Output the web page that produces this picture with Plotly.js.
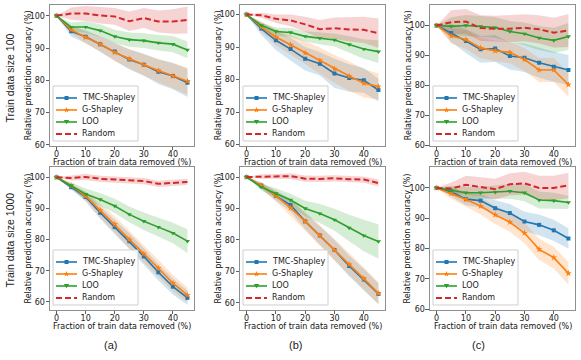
<!DOCTYPE html>
<html>
<head>
<meta charset="utf-8">
<script src="https://cdn.plot.ly/plotly-3.0.1.min.js"></script>
<style>
  html, body { margin: 0; padding: 0; background: #fff; }
  #graficos { width: 581px; height: 360px; }
</style>
</head>
<body>
<div id="graficos"></div>
<script>
// fraction of train data removed (%)
var removed = [0, 5, 10, 15, 20, 25, 30, 35, 40, 45];

var metodos = ['TMC-Shapley', 'G-Shapley', 'LOO', 'Random'];
var paneles = ['(a)', '(b)', '(c)'];
var filas = ['Train data size 100', 'Train data size 1000'];
var tituloX = 'Fraction of train data removed (%)';
var tituloY = 'Relative prediction accuracy (%)';

// top row - train data size 100
var a_tmc = [100, 95.2, 93.5, 91.2, 88.9, 86.4, 84.8, 82.6, 81.3, 79.2];
var a_g = [100, 95.7, 93.3, 91.2, 88.6, 86.6, 84.8, 83.0, 81.3, 79.7];
var a_loo = [100, 96.5, 96.5, 95.4, 93.6, 92.6, 92.3, 91.6, 91.2, 89.4];
var a_rand = [100, 100.7, 100.7, 100.1, 99.8, 98.3, 99.3, 98.2, 98.2, 98.7];
var a_tmc_sd = [0, 1.6, 2.0, 2.4, 2.8, 3.1, 3.4, 3.8, 4.1, 4.4];
var a_g_sd = [0, 1.2, 1.8, 2.3, 2.7, 3.0, 3.3, 3.6, 3.9, 4.2];
var a_loo_sd = [0, 1.3, 1.8, 2.0, 2.1, 2.2, 2.3, 2.4, 2.5, 2.6];
var a_rand_sd = [0, 1.9, 2.3, 2.5, 2.6, 3.0, 3.1, 3.4, 3.8, 4.2];

var b_tmc = [100, 95.7, 92.1, 89.4, 86.4, 84.9, 81.9, 80.5, 79.8, 76.8];
var b_g = [100, 96.2, 93.1, 90.7, 88.2, 85.9, 83.3, 81.1, 78.9, 77.9];
var b_loo = [100, 96.7, 94.8, 94.5, 93.3, 92.7, 92.2, 90.8, 89.4, 88.6];
var b_rand = [100, 99.8, 98.7, 98.2, 97.0, 95.5, 95.8, 95.4, 95.3, 94.3];
var b_tmc_sd = [0, 2.0, 3.0, 3.5, 3.6, 3.6, 4.5, 4.2, 3.8, 3.5];
var b_g_sd = [0, 1.5, 2.5, 3.0, 3.5, 4.0, 4.3, 4.5, 4.4, 4.0];
var b_loo_sd = [0, 0.8, 1.2, 1.4, 1.6, 1.8, 2.0, 2.5, 3.0, 3.5];
var b_rand_sd = [0, 0.8, 1.3, 1.8, 2.3, 2.8, 3.3, 3.7, 4.0, 4.5];

var c_tmc = [100, 97.5, 94.8, 92.0, 92.3, 89.8, 89.2, 87.5, 86.2, 85.1];
var c_g = [100, 96.5, 95.3, 92.5, 91.5, 91.0, 88.6, 85.1, 85.1, 80.2];
var c_loo = [100, 99.7, 100.0, 99.7, 99.3, 98.0, 97.2, 95.8, 95.0, 96.3];
var c_rand = [100, 101.1, 101.3, 99.1, 98.9, 98.9, 99.2, 98.7, 97.6, 98.3];
var c_tmc_sd = [0, 3.0, 4.0, 4.5, 4.5, 4.5, 4.8, 5.0, 5.0, 5.0];
var c_g_sd = [0, 2.5, 3.2, 3.5, 3.5, 3.6, 3.8, 4.0, 4.0, 4.0];
var c_loo_sd = [0, 3.0, 3.5, 3.5, 3.5, 3.5, 3.8, 4.0, 4.2, 4.5];
var c_rand_sd = [0, 4.0, 4.2, 4.3, 4.3, 4.5, 4.5, 4.7, 5.0, 5.5];

// bottom row - train data size 1000
var d_tmc = [100, 96.8, 93.7, 88.6, 84.0, 79.5, 74.6, 69.5, 64.9, 61.3];
var d_g = [100, 97.3, 94.0, 89.4, 84.9, 80.0, 75.4, 70.8, 66.0, 62.2];
var d_loo = [100, 97.4, 94.6, 92.9, 90.8, 88.1, 85.9, 84.0, 82.1, 79.5];
var d_rand = [100, 99.8, 100.1, 99.5, 99.3, 99.1, 98.8, 97.9, 98.3, 98.5];
var d_tmc_sd = [0, 0.8, 1.5, 2.0, 2.3, 2.5, 2.6, 2.6, 2.5, 2.3];
var d_g_sd = [0, 0.8, 1.5, 2.2, 2.6, 2.8, 2.8, 2.7, 2.6, 2.4];
var d_loo_sd = [0, 1.0, 1.8, 2.0, 2.3, 2.5, 2.8, 3.0, 3.3, 3.8];
var d_rand_sd = [0, 0.8, 1.0, 1.0, 1.0, 1.0, 1.0, 1.0, 1.0, 1.0];

var e_tmc = [100, 97.3, 94.0, 91.1, 85.9, 81.4, 76.8, 71.7, 67.4, 62.8];
var e_g = [100, 97.3, 94.0, 90.2, 85.9, 81.4, 76.8, 72.2, 67.7, 63.0];
var e_loo = [100, 96.8, 94.8, 92.7, 90.0, 88.4, 86.4, 83.8, 81.4, 79.5];
var e_rand = [100, 100.2, 100.2, 100.3, 99.5, 99.4, 99.6, 99.3, 99.2, 98.1];
var e_tmc_sd = [0, 1.0, 1.5, 2.0, 2.5, 3.0, 3.2, 3.3, 3.4, 3.3];
var e_g_sd = [0, 1.0, 1.8, 2.5, 3.0, 3.3, 3.5, 3.6, 3.6, 3.5];
var e_loo_sd = [0, 1.0, 1.6, 2.0, 2.5, 3.0, 3.5, 4.2, 5.0, 5.5];
var e_rand_sd = [0, 0.7, 0.8, 0.9, 1.0, 1.0, 1.0, 1.0, 1.0, 1.1];

var f_tmc = [100, 98.7, 96.3, 95.8, 93.3, 91.7, 88.9, 87.8, 86.0, 83.3];
var f_g = [100, 98.2, 96.2, 94.0, 91.1, 88.7, 85.1, 79.7, 77.0, 71.8];
var f_loo = [100, 99.2, 98.4, 98.4, 98.6, 98.9, 98.4, 96.0, 95.8, 95.2];
var f_rand = [100, 99.8, 101.0, 100.3, 99.6, 101.2, 101.5, 100.0, 100.0, 100.8];
var f_tmc_sd = [0, 1.5, 2.0, 2.3, 2.6, 3.0, 3.2, 3.4, 3.5, 3.4];
var f_g_sd = [0, 1.8, 2.5, 2.8, 3.0, 3.2, 3.4, 3.5, 3.6, 3.8];
var f_loo_sd = [0, 1.5, 2.0, 2.0, 2.2, 2.5, 2.8, 2.8, 2.6, 2.2];
var f_rand_sd = [0, 2.0, 3.0, 3.2, 3.4, 3.6, 3.8, 4.0, 4.0, 4.2];

document.addEventListener("DOMContentLoaded", function () {

    var colores = ['#1f77b4', '#ff7f0e', '#2ca02c', '#d62728'];
    var rellenos = ['rgba(31,119,180,0.2)', 'rgba(255,127,14,0.2)', 'rgba(44,160,44,0.2)', 'rgba(214,39,40,0.2)'];
    var simbolos = ['square', 'star', 'triangle-down', null];

    var series = [
        [a_tmc, a_g, a_loo, a_rand], [b_tmc, b_g, b_loo, b_rand], [c_tmc, c_g, c_loo, c_rand],
        [d_tmc, d_g, d_loo, d_rand], [e_tmc, e_g, e_loo, e_rand], [f_tmc, f_g, f_loo, f_rand]
    ];
    var desv = [
        [a_tmc_sd, a_g_sd, a_loo_sd, a_rand_sd], [b_tmc_sd, b_g_sd, b_loo_sd, b_rand_sd],
        [c_tmc_sd, c_g_sd, c_loo_sd, c_rand_sd], [d_tmc_sd, d_g_sd, d_loo_sd, d_rand_sd],
        [e_tmc_sd, e_g_sd, e_loo_sd, e_rand_sd], [f_tmc_sd, f_g_sd, f_loo_sd, f_rand_sd]
    ];

    var colDom = [[0.0861, 0.3339], [0.4131, 0.6627], [0.7401, 0.9897]];
    var rowDom = [[0.5945, 0.9875], [0.1389, 0.5361]];
    var yRangos = [[59.6, 103.5], [59.6, 103.1], [59.7, 107], [57.4, 103.3], [57.7, 103.2], [59.7, 106.9]];

    var fuente = 'DejaVu Sans, sans-serif';
    var data = [];
    var layout = {
        width: 581, height: 360,
        margin: {l: 0, r: 0, t: 0, b: 0},
        paper_bgcolor: '#fff', plot_bgcolor: '#fff',
        font: {family: fuente, size: 8, color: '#222'},
        showlegend: false,
        shapes: [], annotations: []
    };

    function starPath(cx, cy, ro, ri) {
        var p = '';
        for (var k = 0; k < 10; k++) {
            var r = k % 2 === 0 ? ro : ri;
            var ang = Math.PI / 2 + k * Math.PI / 5;
            p += (k === 0 ? 'M ' : ' L ') + (cx + r * Math.cos(ang)).toFixed(2) + ',' + (cy + r * Math.sin(ang)).toFixed(2);
        }
        return p + ' Z';
    }

    for (var i = 0; i < 6; i++) {
        var fila = Math.floor(i / 3), col = i % 3;
        var suf = i === 0 ? '' : String(i + 1);
        var xa = 'x' + suf, ya = 'y' + suf;
        var xr = xa + ' domain', yr = ya + ' domain';

        var ejeComun = {
            showline: true, mirror: true, linecolor: '#8f8f8f', linewidth: 1,
            showgrid: false, zeroline: false,
            ticks: 'outside', ticklen: 3.5, tickwidth: 0.8, tickcolor: '#333',
            tickfont: {size: 8, color: '#222'}, dtick: 10, tick0: 0
        };
        layout['xaxis' + suf] = Object.assign({}, ejeComun, {
            domain: colDom[col], anchor: ya, range: [-2.25, 47.25], ticklabelstandoff: -3
        });
        layout['yaxis' + suf] = Object.assign({}, ejeComun, {
            domain: rowDom[fila], anchor: xa, range: yRangos[i], ticklabelstandoff: -1
        });

        // axis titles
        layout.annotations.push({
            xref: xr, yref: yr, x: 0.5, y: 0, xanchor: 'center', yanchor: 'middle',
            yshift: -16.5, text: tituloX, showarrow: false, font: {size: 8, color: '#111'}
        });
        layout.annotations.push({
            xref: xr, yref: yr, x: 0, y: 0.5, xanchor: 'center', yanchor: 'middle',
            xshift: -22, textangle: -90, text: tituloY, showarrow: false, font: {size: 8, color: '#111'}
        });

        // bands first, lines on top
        for (var m = 0; m < 4; m++) {
            var media = series[i][m], sd = desv[i][m];
            var sup = media.map(function (v, k) { return v + sd[k]; });
            var inf = media.map(function (v, k) { return v - sd[k]; });
            data.push({
                x: removed.concat(removed.slice().reverse()),
                y: sup.concat(inf.slice().reverse()),
                xaxis: xa, yaxis: ya, type: 'scatter', mode: 'lines',
                fill: 'toself', fillcolor: rellenos[m], line: {width: 0},
                hoverinfo: 'skip', showlegend: false
            });
        }
        for (m = 0; m < 4; m++) {
            var tr = {
                x: removed, y: series[i][m], name: metodos[m],
                xaxis: xa, yaxis: ya, type: 'scatter', showlegend: false
            };
            if (simbolos[m]) {
                tr.mode = 'lines+markers';
                tr.line = {color: colores[m], width: 1.6};
                tr.marker = {symbol: simbolos[m], color: colores[m], size: m === 1 ? 5 : (m === 0 ? 4 : 4.5)};
            } else {
                tr.mode = 'lines';
                tr.line = {color: colores[m], width: 2, dash: '6px,3px'};
            }
            data.push(tr);
        }

        // legend box in the lower left of every panel
        var px = {xref: xr, yref: yr, xsizemode: 'pixel', ysizemode: 'pixel', xanchor: 0, yanchor: 0, layer: 'above'};
        layout.shapes.push(Object.assign({}, px, {
            type: 'rect', x0: 3, x1: 88, y0: 5, y1: 60,
            fillcolor: 'rgba(255,255,255,0.85)', line: {color: '#cfcfcf', width: 1}
        }));
        for (m = 0; m < 4; m++) {
            var fy = 48 - 12 * m;
            var ln = {color: colores[m], width: m === 3 ? 2 : 1.6};
            if (m === 3) ln.dash = '6px,3px';
            layout.shapes.push(Object.assign({}, px, {type: 'line', x0: 6, x1: 27, y0: fy, y1: fy, line: ln}));
            if (m === 0) {
                layout.shapes.push(Object.assign({}, px, {type: 'rect', x0: 14.5, x1: 18.5, y0: fy - 2, y1: fy + 2,
                    fillcolor: colores[m], line: {width: 0}}));
            } else if (m === 1) {
                layout.shapes.push(Object.assign({}, px, {type: 'path', path: starPath(16.5, fy, 3, 1.3),
                    fillcolor: colores[m], line: {width: 0}}));
            } else if (m === 2) {
                layout.shapes.push(Object.assign({}, px, {type: 'path',
                    path: 'M 13.8,' + (fy + 2) + ' L 19.2,' + (fy + 2) + ' L 16.5,' + (fy - 2.2) + ' Z',
                    fillcolor: colores[m], line: {width: 0}}));
            }
            layout.annotations.push({
                xref: xr, yref: yr, x: 0, y: 0, xanchor: 'left', yanchor: 'middle',
                xshift: 30, yshift: fy, text: metodos[m], showarrow: false,
                font: {size: 8, color: '#222'}
            });
        }
    }

    // row and column labels
    for (var f = 0; f < 2; f++) {
        layout.annotations.push({
            xref: 'paper', yref: 'paper', x: 0.018, y: f === 0 ? 0.783 : 0.333,
            text: filas[f], textangle: -90, showarrow: false,
            xanchor: 'center', yanchor: 'middle',
            font: {family: 'Liberation Sans, Arial, sans-serif', size: 10.5, color: '#222'}
        });
    }
    var centrosX = [0.191, 0.508, 0.824];
    for (var c = 0; c < 3; c++) {
        layout.annotations.push({
            xref: 'paper', yref: 'paper', x: centrosX[c], y: 1 - 345 / 360,
            text: paneles[c], showarrow: false, xanchor: 'center', yanchor: 'middle',
            font: {family: 'Liberation Sans, Arial, sans-serif', size: 11, color: '#222'}
        });
    }

    Plotly.newPlot('graficos', data, layout, {displayModeBar: false, staticPlot: true});
});
</script>
</body>
</html>
